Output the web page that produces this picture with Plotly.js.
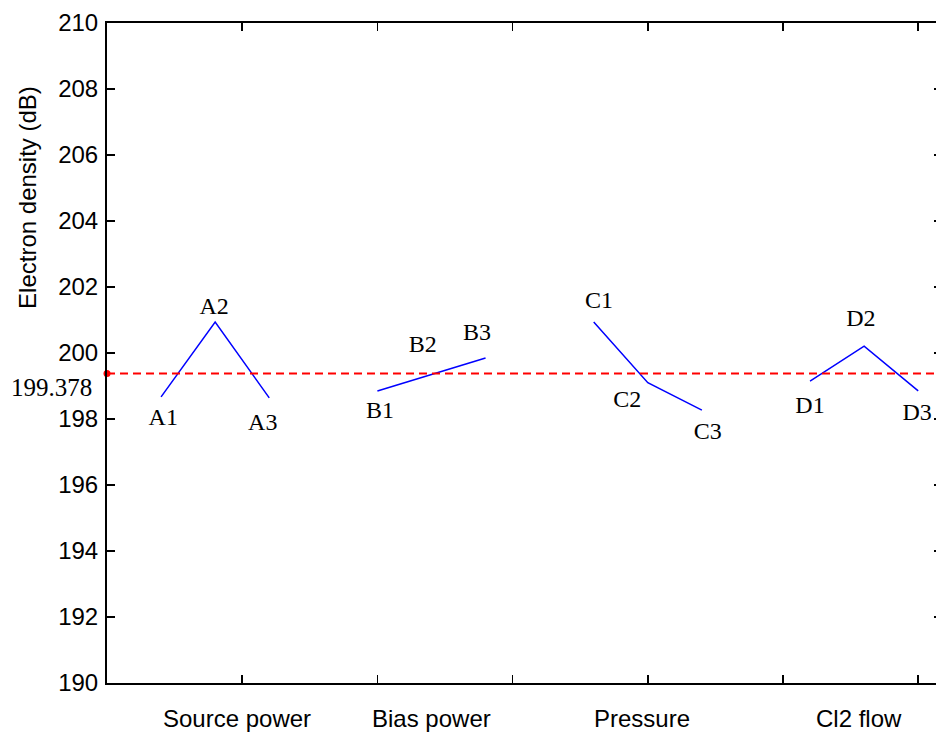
<!DOCTYPE html>
<html>
<head>
<meta charset="utf-8">
<script src="https://cdn.plot.ly/plotly-3.0.1.min.js"></script>
<style>
html,body{margin:0;padding:0;overflow:hidden;background:#fff;}
#chart{width:960px;height:738px;}
</style>
</head>
<body>
<div id="chart"></div>
<script>
// ---- data ----
const factorNames = ["Source power", "Bias power", "Pressure", "Cl2 flow"];
const factorLabelX = [2.4, 6.0, 9.9, 13.9];
const levelX = [[1, 2, 3], [5, 6, 7], [9, 10, 11], [13, 14, 15]];
const valuesA = [198.67, 200.94, 198.64];
const valuesB = [198.85, 199.36, 199.85];
const valuesC = [200.94, 199.10, 198.27];
const valuesD = [199.15, 200.21, 198.85];
const levelNames = [["A1", "A2", "A3"], ["B1", "B2", "B3"], ["C1", "C2", "C3"], ["D1", "D2", "D3"]];
const labelX = [[1.04, 1.98, 2.88], [5.05, 5.84, 6.84], [9.10, 9.62, 11.11], [13.0, 13.94, 14.98]];
const labelY = [[198.0, 201.36, 197.85], [198.21, 200.21, 200.58], [201.55, 198.55, 197.58], [198.36, 201.0, 198.15]];
const overallMean = 199.378;
const yTicks = [190, 192, 194, 196, 198, 200, 202, 204, 206, 208, 210];
const xTicks = [2.5, 5, 7.5, 10, 12.5, 15];
const yTitle = "Electron density (dB)";

const groups = [valuesA, valuesB, valuesC, valuesD];
const xMax = 15.44;

const traces = [];
groups.forEach((vals, i) => {
  traces.push({
    type: "scatter", mode: "lines",
    x: levelX[i], y: vals,
    line: {color: "#0000ff", width: 1.5},
    hoverinfo: "skip", showlegend: false
  });
});
traces.push({
  type: "scatter", mode: "lines",
  x: [0, xMax], y: [overallMean, overallMean],
  line: {color: "#ff0000", width: 2, dash: "8px,5px"},
  showlegend: false, hoverinfo: "skip"
});
traces.push({
  type: "scatter", mode: "markers",
  x: [0], y: [overallMean],
  marker: {color: "#ff0000", size: 7},
  cliponaxis: false, showlegend: false, hoverinfo: "skip"
});
traces.push({
  type: "scatter", mode: "text",
  x: labelX.flat(), y: labelY.flat(), text: levelNames.flat(),
  textposition: "middle center",
  textfont: {family: "Liberation Serif, Times New Roman, serif", size: 24, color: "#000"},
  cliponaxis: false, showlegend: false, hoverinfo: "skip"
});

const annotations = factorNames.map((n, i) => ({
  text: n, x: factorLabelX[i], xref: "x", y: -0.054, yref: "paper",
  xanchor: "center", yanchor: "middle", showarrow: false,
  font: {family: "Liberation Sans, Arial, sans-serif", size: 24, color: "#000"}
}));
annotations.push({
  text: String(overallMean), x: -0.016, xref: "paper", y: overallMean - 0.42, yref: "y",
  xanchor: "right", yanchor: "middle", showarrow: false,
  font: {family: "Liberation Serif, Times New Roman, serif", size: 25, color: "#000"}
});
annotations.push({
  text: yTitle, textangle: -90, x: -0.0946, xref: "paper", y: 0.735, yref: "paper",
  xanchor: "center", yanchor: "middle", showarrow: false,
  font: {family: "Liberation Sans, Arial, sans-serif", size: 24, color: "#000"}
});

const layout = {
  width: 960, height: 738,
  margin: {l: 107, r: 18, t: 23, b: 55},
  paper_bgcolor: "#fff", plot_bgcolor: "#fff",
  showlegend: false,
  xaxis: {
    range: [0, xMax], tickvals: xTicks, ticktext: xTicks.map(() => ""),
    ticks: "inside", ticklen: 8, tickwidth: 1.5, tickcolor: "#000",
    showline: true, linecolor: "#000", linewidth: 2, mirror: "ticks",
    showgrid: false, zeroline: false, fixedrange: true
  },
  yaxis: {
    range: [190, 210], tickvals: yTicks, ticktext: yTicks.map(String),
    ticks: "inside", ticklen: 8, tickwidth: 1.5, tickcolor: "#000",
    showline: true, linecolor: "#000", linewidth: 2, mirror: "ticks",
    showgrid: false, zeroline: false, fixedrange: true,
    tickfont: {family: "Liberation Sans, Arial, sans-serif", size: 24, color: "#000"},
    ticklabelstandoff: 2
  },
  annotations: annotations
};

Plotly.newPlot("chart", traces, layout, {staticPlot: true, displayModeBar: false});
</script>
</body>
</html>
